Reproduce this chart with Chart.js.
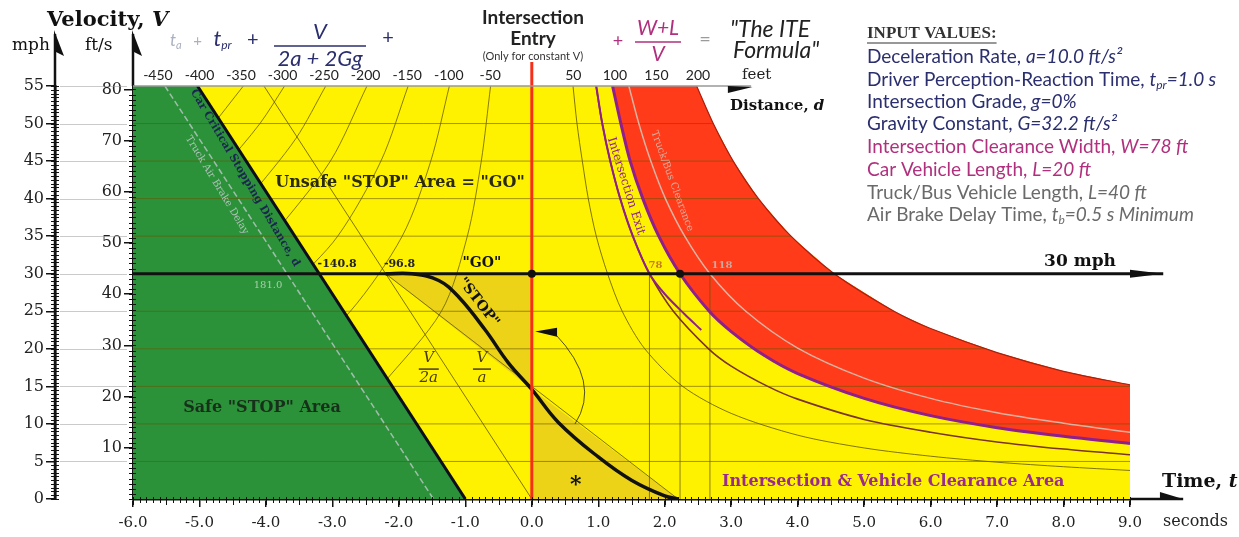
<!DOCTYPE html>
<html>
<head>
<meta charset="utf-8">
<script src="https://cdn.jsdelivr.net/npm/chart.js@4.4.1/dist/chart.umd.min.js"></script>
<style>
html, body { margin: 0; padding: 0; background: #fff; }
</style>
</head>
<body>
<canvas id="grafico" width="1239" height="537"></canvas>
<script>
// ---- ejes ----
const segTicks = [-6, -5, -4, -3, -2, -1, 0, 1, 2, 3, 4, 5, 6, 7, 8, 9];
const mphTicks = [0, 5, 10, 15, 20, 25, 30, 35, 40, 45, 50, 55];
const ftsTicks = [10, 20, 30, 40, 50, 60, 70, 80];
const ftsMax = 80.67;                       // 55 mph en ft/s
const feetTicks = [-450, -400, -350, -300, -250, -200, -150, -100, -50, 50, 100, 150, 200];

// ---- zonas (t en s, V en mph) ----
const verdeT = [-6, -6, -5.03, -1.0];
const verdeV = [0, 55, 55, 0];
const criticoT = [-5.03, -1.0];
const criticoV = [55, 0];
const frenoAireT = [-5.52, -1.48];
const frenoAireV = [55, 0];

const rojoExtT = [2.48, 2.73, 3.03, 3.41, 3.9, 4.55, 5.45, 6.0, 7.0, 8.0, 9.0];
const rojoExtV = [55, 50, 45, 40, 35, 30, 25, 22.7, 19.5, 17.0, 15.2];
const rojoIntT = [1.215, 1.34, 1.48, 1.67, 1.91, 2.23, 2.67, 3.0, 3.5, 4.0, 5.0, 6.0, 7.0, 8.0, 9.0];
const rojoIntV = [55, 50, 45, 40, 35, 30, 25, 22.3, 19.1, 16.7, 13.4, 11.1, 9.5, 8.35, 7.4];
const camionT = [1.46, 1.61, 1.79, 2.01, 2.3, 2.68, 3.22, 4.0, 5.0, 6.0, 7.0, 8.0, 9.0];
const camionV = [55, 50, 45, 40, 35, 30, 25, 20.1, 16.1, 13.4, 11.5, 10.1, 8.9];
const salidaT = [0.967, 1.06, 1.18, 1.33, 1.52, 1.77, 2.13, 2.66, 3.0, 3.55, 4.0, 5.0, 6.0, 7.0, 8.0, 9.0];
const salidaV = [55, 50, 45, 40, 35, 30, 25, 20, 17.7, 15, 13.3, 10.6, 8.9, 7.6, 6.65, 5.9];
const moradoT = [0.97, 1.06, 1.18, 1.33, 1.52, 1.77, 2.0, 2.3, 2.55];
const moradoV = [55, 50, 45, 40, 35, 30, 27.3, 24.6, 22.5];
const d50T = [0.62, 0.68, 0.76, 0.85, 0.97, 1.14, 1.36, 1.7, 2.27, 3.0, 4.0, 5.0, 6.0, 7.0, 8.0, 9.0];
const d50V = [55, 50, 45, 40, 35, 30, 25, 20, 15, 11.4, 8.5, 6.8, 5.7, 4.9, 4.3, 3.8];

// distancias negativas (-50 ... -350 ft)
const hipT = [
    [-0.62, -0.76, -0.97, -1.36, -2.27],
    [-1.24, -1.52, -1.95, -2.73, -3.41],
    [-1.86, -2.27, -2.92, -3.65],
    [-2.48, -3.03, -3.9],
    [-3.1, -3.55, -4.26],
    [-3.72, -4.09, -4.65],
    [-4.34, -4.87]
];
const hipV = [
    [55, 45, 35, 25, 15],
    [55, 45, 35, 25, 20],
    [55, 45, 35, 28],
    [55, 45, 35],
    [55, 48, 40],
    [55, 50, 44],
    [55, 49]
];

const medioT = [-4.03, 0];     // V/2a
const medioV = [55, 0];
const enteroT = [-2.2, 2.2];   // V/a
const enteroV = [30, 0];
const stopT = [-2.2, -1.8, -1.4, -1.1, -0.7, -0.35, 0, 0.4, 1.0, 1.5, 2.0, 2.2];
const stopV = [30, 30, 29.1, 26.9, 22.5, 18.1, 14.6, 10.2, 5.6, 2.5, 0.4, 0];
const sombraAT = [-2.2, 0, 0];
const sombraAV = [30, 30, 14.6];
const sombraBT = [0, 0, 2.2];
const sombraBV = [14.6, 0, 0];

const goT = [-6, 0, 2.23, 9.5];
const goV = [30, 30, 30, 30];
const entradaT = [0, 0];
const entradaV = [0, 58.2];
const despejeT = [1.77, 2.23, 2.68];

const rejillaV = [5, 10, 15, 20, 25, 35, 40, 45, 50];
const rejillaFinT = [9, 9, 9, 6.82, 5.45, 3.9, 3.41, 3.03, 2.73];

const SERIF = '"DejaVu Serif", serif';
const TIMES = '"Liberation Serif", serif';
const SANS = 'Lato, "Open Sans", sans-serif';

function serie(t, v) {
    return t.map((ti, i) => ({ x: ti, y: v[i] }));
}

function linea(t, v, color, ancho, extra) {
    return Object.assign({
        data: serie(t, v), borderColor: color, borderWidth: ancho,
        pointRadius: 0, fill: false, tension: 0
    }, extra || {});
}

function poligono(puntos, color) {
    return { data: puntos, borderWidth: 0, backgroundColor: color, pointRadius: 0, fill: 'shape', tension: 0 };
}

let amarillo = [{ x: -6, y: 0 }, { x: -6, y: 55 }].concat(serie(rojoExtT, rojoExtV), [{ x: 9, y: 0 }]);
let rojo = serie(rojoExtT, rojoExtV).concat(serie(rojoIntT, rojoIntV).reverse());

let datasets = [];
datasets.push(poligono(amarillo, '#fff200'));
datasets.push(poligono(rojo, '#ff3b1a'));
datasets.push(poligono(serie(sombraAT, sombraAV), '#ecd318'));
datasets.push(poligono(serie(sombraBT, sombraBV), '#ecd318'));
for (let i = 0; i < hipT.length; i++) {
    datasets.push(linea(hipT[i], hipV[i], 'rgba(95,85,0,0.75)', 1, { tension: 0.3 }));
}
datasets.push(linea(medioT, medioV, 'rgba(95,85,0,0.8)', 1));
datasets.push(poligono(serie(verdeT, verdeV), '#2c923a'));
rejillaV.forEach((v, i) => {
    datasets.push(linea([-6, rejillaFinT[i]], [v, v], 'rgba(100,85,0,0.6)', 1));
});
despejeT.forEach(t => {
    datasets.push(linea([t, t], [0, 30], 'rgba(100,85,0,0.75)', 1));
});
datasets.push(linea(d50T, d50V, 'rgba(95,85,0,0.8)', 1, { tension: 0.3 }));
datasets.push(linea(rojoExtT, rojoExtV, '#a82010', 1.2, { tension: 0.3 }));
datasets.push(linea(camionT, camionV, 'rgba(215,185,170,0.95)', 1.5, { tension: 0.3 }));
datasets.push(linea(rojoIntT, rojoIntV, '#8e1f8e', 3, { tension: 0.3 }));
datasets.push(linea(salidaT, salidaV, '#7a3326', 1.6, { tension: 0.3 }));
datasets.push(linea(moradoT, moradoV, '#8e1f8e', 2, { tension: 0.3 }));
datasets.push(linea(enteroT, enteroV, 'rgba(95,85,0,0.8)', 1));
datasets.push(linea(frenoAireT, frenoAireV, 'rgba(190,200,200,0.8)', 1.5, { borderDash: [6, 3] }));
datasets.push(linea(criticoT, criticoV, '#0d0d20', 3));
datasets.push(linea(stopT, stopV, '#111', 3.5, { tension: 0.4 }));
datasets.push(linea(entradaT, entradaV, '#f5301a', 3, { clip: false }));
datasets.push(linea(goT, goV, '#111', 3, {
    clip: false,
    pointRadius: [0, 4, 4, 0],
    pointBackgroundColor: '#111',
    pointBorderWidth: 0
}));
datasets.forEach((d, i) => { d.order = datasets.length - i; });

function texto(c, s, x, y, font, color, align, base) {
    c.font = font;
    c.fillStyle = color;
    c.textAlign = align || 'left';
    c.textBaseline = base || 'middle';
    c.fillText(s, x, y);
}

// texto con partes (texto, fuente, color, desplazamiento vertical)
function partes(c, x, y, lista) {
    c.textAlign = 'left';
    c.textBaseline = 'alphabetic';
    for (let p of lista) {
        c.font = p[1];
        c.fillStyle = p[2];
        c.fillText(p[0], x, y + (p[3] || 0));
        x += c.measureText(p[0]).width;
    }
}

function girado(c, s, x, y, ang, font, color) {
    c.save();
    c.translate(x, y);
    c.rotate(ang * Math.PI / 180);
    texto(c, s, 0, 0, font, color, 'center', 'middle');
    c.restore();
}

function fraccion(c, arriba, abajo, x, yBarra, ancho, font, color) {
    texto(c, arriba, x, yBarra - 3, font, color, 'center', 'bottom');
    texto(c, abajo, x, yBarra + 2, font, color, 'center', 'top');
    c.strokeStyle = color;
    c.lineWidth = 1.5;
    c.beginPath();
    c.moveTo(x - ancho / 2, yBarra);
    c.lineTo(x + ancho / 2, yBarra);
    c.stroke();
}

function cuña(c, pts) {
    c.fillStyle = '#111';
    c.beginPath();
    c.moveTo(pts[0][0], pts[0][1]);
    for (let p of pts.slice(1)) c.lineTo(p[0], p[1]);
    c.closePath();
    c.fill();
}

const extras = {
    id: 'extras',
    afterDraw(chart) {
        const c = chart.ctx;
        const sx = chart.scales.x, sy = chart.scales.y, sf = chart.scales.yFts;
        const a = chart.chartArea;
        const px = t => sx.getPixelForValue(t);
        const py = v => sy.getPixelForValue(v);
        c.save();

        // lineas claras entre los dos ejes verticales
        c.strokeStyle = 'rgba(150,150,150,0.5)';
        c.lineWidth = 1;
        mphTicks.forEach(v => {
            if (v === 0) return;
            const yy = Math.round(py(v)) + 0.5;
            c.beginPath(); c.moveTo(sy.right + 5, yy); c.lineTo(a.left - 6, yy); c.stroke();
        });

        // marcas menores
        c.strokeStyle = '#111';
        c.lineWidth = 1;
        for (let v = 0; v <= 55.01; v += 0.5) {
            const yy = Math.round(py(v)) + 0.5;
            c.beginPath(); c.moveTo(sy.right - 4, yy); c.lineTo(sy.right + 4, yy); c.stroke();
        }
        for (let f = 0; f <= 80; f += 1) {
            const yy = Math.round(sf.getPixelForValue(f)) + 0.5;
            c.beginPath(); c.moveTo(a.left - 4, yy); c.lineTo(a.left + 3, yy); c.stroke();
        }
        for (let k = 0; k <= 150; k++) {
            const xx = Math.round(px(-6 + k / 10)) + 0.5;
            c.beginPath(); c.moveTo(xx, a.bottom - 2); c.lineTo(xx, a.bottom + (k % 5 === 0 ? 6 : 4)); c.stroke();
        }

        // flechas de los ejes
        c.lineWidth = 2.5;
        c.beginPath();
        c.moveTo(sy.right, a.bottom); c.lineTo(sy.right, 34);
        c.moveTo(a.left, a.top); c.lineTo(a.left, 34);
        c.moveTo(a.right, a.bottom); c.lineTo(px(9.8), a.bottom);
        c.stroke();
        cuña(c, [[sy.right - 1, 30], [sy.right + 9, 56], [sy.right - 1, 51]]);
        cuña(c, [[a.left - 1, 30], [a.left + 9, 56], [a.left - 1, 51]]);
        cuña(c, [[px(9.45), a.bottom - 7], [px(9.8), a.bottom], [px(9.45), a.bottom]]);
        cuña(c, [[px(9.0), py(30) - 4], [px(9.5), py(30)], [px(9.0), py(30) + 4]]);

        // eje de distancia (arriba)
        c.strokeStyle = '#999';
        c.lineWidth = 1.5;
        c.beginPath(); c.moveTo(a.left, a.top); c.lineTo(px(3.3), a.top); c.stroke();
        cuña(c, [[px(2.95), a.top], [px(3.32), a.top + 1], [px(2.95), a.top + 7]]);
        texto(c, 'feet', 742, 75, '15px ' + SERIF, '#222');
        partes(c, 730, 110, [['Distance, ', 'bold 15px ' + SERIF, '#111'], ['d', 'bold italic 15px ' + SERIF, '#111']]);

        // titulos del eje vertical
        partes(c, 47, 26, [['Velocity, ', 'bold 21px ' + SERIF, '#111'], ['V', 'bold italic 21px ' + SERIF, '#111']]);
        texto(c, 'mph', 12, 46, '17px ' + SERIF, '#111');
        texto(c, 'ft/s', 85, 46, '17px ' + SERIF, '#111');

        // formula
        const azul = '#2b2f6e';
        partes(c, 170, 46, [['t', 'italic 17px ' + SANS, '#aab0c0'], ['a', 'italic 11px ' + SANS, '#aab0c0', 3],
            ['   +   ', '15px ' + SANS, '#aab0c0'], ['t', 'italic 22px ' + SANS, azul], ['pr', 'italic 12px ' + SANS, azul, 3],
            ['   +', '20px ' + SANS, azul]]);
        fraccion(c, 'V', '2a + 2Gg', 320, 46, 92, 'italic 22px ' + SANS, azul);
        texto(c, '+', 388, 38, '20px ' + SANS, azul, 'center');

        texto(c, 'Intersection', 533, 18, 'bold 19px ' + SANS, '#222', 'center');
        texto(c, 'Entry', 533, 39, 'bold 19px ' + SANS, '#222', 'center');
        texto(c, '(Only for constant V)', 533, 56, '11px ' + SANS, '#333', 'center');
        const mag = '#b0307e';
        texto(c, '+', 618, 41, '18px ' + SANS, mag, 'center');
        fraccion(c, 'W+L', 'V', 658, 42, 46, 'italic 21px ' + SANS, mag);
        texto(c, '=', 705, 40, '20px ' + SANS, '#9a9a9a', 'center');
        texto(c, '"The ITE', 730, 30, 'italic 23px ' + SANS, '#222');
        texto(c, 'Formula"', 733, 51, 'italic 23px ' + SANS, '#222');

        // valores de entrada
        const f = '19px ' + SANS, fi = 'italic 19px ' + SANS, fs = 'italic 12px ' + SANS;
        c.font = 'bold 17px ' + TIMES;
        texto(c, 'INPUT VALUES:', 867, 34, 'bold 17px ' + TIMES, '#333');
        c.strokeStyle = '#333'; c.lineWidth = 1.2;
        c.beginPath(); c.moveTo(867, 43); c.lineTo(867 + c.measureText('INPUT VALUES:').width, 43); c.stroke();
        const gris = '#6a6a6a';
        partes(c, 867, 63, [['Deceleration Rate, ', f, azul], ['a=10.0 ft/s²', fi, azul]]);
        partes(c, 867, 86, [['Driver Perception-Reaction Time, ', f, azul], ['t', fi, azul], ['pr', fs, azul, 3], ['=1.0 s', fi, azul]]);
        partes(c, 867, 108, [['Intersection Grade, ', f, azul], ['g=0%', fi, azul]]);
        partes(c, 867, 130, [['Gravity Constant, ', f, azul], ['G=32.2 ft/s²', fi, azul]]);
        partes(c, 867, 153, [['Intersection Clearance Width, ', f, mag], ['W=78 ft', fi, mag]]);
        partes(c, 867, 176, [['Car Vehicle Length, ', f, mag], ['L=20 ft', fi, mag]]);
        partes(c, 867, 199, [['Truck/Bus Vehicle Length, ', f, gris], ['L=40 ft', fi, gris]]);
        partes(c, 867, 221, [['Air Brake Delay Time, ', f, gris], ['t', fi, gris], ['b', fs, gris, 3], ['=0.5 s Minimum', fi, gris]]);

        // rotulos dentro del grafico
        texto(c, 'Unsafe "STOP" Area = "GO"', 400, 183, 'bold 16px ' + SERIF, '#2a2a10', 'center');
        texto(c, 'Safe "STOP" Area', 262, 408, 'bold 16px ' + SERIF, '#17301a', 'center');
        texto(c, '-140.8', px(-3.2) + 18, py(30) - 10, 'bold 11px ' + SERIF, '#222', 'center');
        texto(c, '-96.8', px(-2.2) + 14, py(30) - 10, 'bold 11px ' + SERIF, '#222', 'center');
        texto(c, '"GO"', px(-0.75), py(30) - 10, 'bold 14px ' + SERIF, '#111', 'center');
        girado(c, '"STOP"', px(-0.8), py(26.2), 52, 'bold 14px ' + SERIF, '#111');
        fraccion(c, 'V', '2a', px(-1.55), py(17.3), 20, 'italic 15px ' + SERIF, '#4a3a10');
        fraccion(c, 'V', 'a', px(-0.75), py(17.3), 18, 'italic 15px ' + SERIF, '#4a3a10');
        texto(c, '*', px(0.66), py(1.8), 'bold 22px ' + SERIF, '#111', 'center');
        texto(c, 'Intersection & Vehicle Clearance Area', 722, 482, 'bold 16px ' + SERIF, '#992b8f');
        texto(c, '30 mph', 1080, py(30) - 12, 'bold 17px ' + SERIF, '#111', 'center');
        texto(c, '78', px(1.77) + 6, py(30) - 8, 'bold 10px ' + SERIF, '#c47a20', 'center');
        texto(c, '118', px(2.68) + 12, py(30) - 8, 'bold 10px ' + SERIF, '#c9a9a0', 'center');
        texto(c, '181.0', 268, 285, '10px ' + SERIF, 'rgba(200,220,200,0.8)', 'center');
        girado(c, 'Intersection Exit', 626, 186, 72.6, '12px ' + SERIF, '#8e1f8e');
        girado(c, 'Car Critical Stopping Distance, d', 245, 178, 59.3, 'bold 11px ' + SERIF, '#1b2650');
        girado(c, 'Truck Air Brake Delay', 217, 185, 58.9, '10px ' + SERIF, 'rgba(190,200,200,0.9)');
        girado(c, 'Truck/Bus Clearance', 672, 181, 69.8, '10px ' + SERIF, 'rgba(215,180,165,0.95)');

        // arco con flecha
        c.strokeStyle = '#222'; c.lineWidth = 0.8;
        c.beginPath();
        c.moveTo(px(0.35), py(22));
        c.quadraticCurveTo(px(1.05), py(15.5), px(0.65), py(10));
        c.stroke();
        cuña(c, [[px(0.05), py(22.3)], [px(0.38), py(22.8)], [px(0.38), py(21.6)]]);

        // tiempo
        partes(c, 1162, 487, [['Time, ', 'bold 19px ' + SERIF, '#111'], ['t', 'bold italic 19px ' + SERIF, '#111']]);
        texto(c, 'seconds', 1163, 522, '16px ' + SERIF, '#222');
        c.restore();
    }
};

new Chart(document.getElementById('grafico').getContext('2d'), {
    type: 'line',
    data: { datasets: datasets },
    options: {
        responsive: false,
        animation: false,
        layout: { padding: { left: 0, right: 109, top: 0, bottom: 0 } },
        plugins: { legend: { display: false }, tooltip: { enabled: false } },
        scales: {
            x: {
                type: 'linear', min: -6, max: 9, position: 'bottom',
                afterBuildTicks: s => { s.ticks = segTicks.map(v => ({ value: v })); },
                ticks: { callback: v => v.toFixed(1), font: { family: SERIF, size: 15 }, color: '#222', padding: 7, maxRotation: 0, autoSkip: false },
                grid: { drawOnChartArea: false, tickLength: 8, color: '#111', lineWidth: 1.5 },
                border: { color: '#111', width: 2.5 },
                afterFit: s => { s.height = 38; }
            },
            xFeet: {
                type: 'linear', min: -480, max: 720, position: 'top',
                afterBuildTicks: s => { s.ticks = feetTicks.map(v => ({ value: v })); },
                ticks: { font: { family: SANS, size: 14 }, color: '#222', padding: 2, maxRotation: 0, autoSkip: false },
                grid: { display: false, drawTicks: false },
                border: { display: false },
                afterFit: s => { s.height = 86; }
            },
            y: {
                type: 'linear', min: 0, max: 55, position: 'left', weight: 1,
                afterBuildTicks: s => { s.ticks = mphTicks.map(v => ({ value: v })); },
                ticks: { font: { family: SERIF, size: 16 }, color: '#222', padding: 2 },
                grid: { drawOnChartArea: false, tickLength: 9, color: '#111', lineWidth: 1.5 },
                border: { color: '#111', width: 2.5 },
                afterFit: s => { s.width = 55; }
            },
            yFts: {
                type: 'linear', min: 0, max: ftsMax, position: 'left', weight: 0,
                afterBuildTicks: s => { s.ticks = ftsTicks.map(v => ({ value: v })); },
                ticks: { font: { family: SERIF, size: 16 }, color: '#222', padding: 2 },
                grid: { drawOnChartArea: false, tickLength: 9, color: '#111', lineWidth: 1.5 },
                border: { color: '#111', width: 2.5 },
                afterFit: s => { s.width = 78; }
            }
        }
    },
    plugins: [extras]
});
</script>
</body>
</html>
